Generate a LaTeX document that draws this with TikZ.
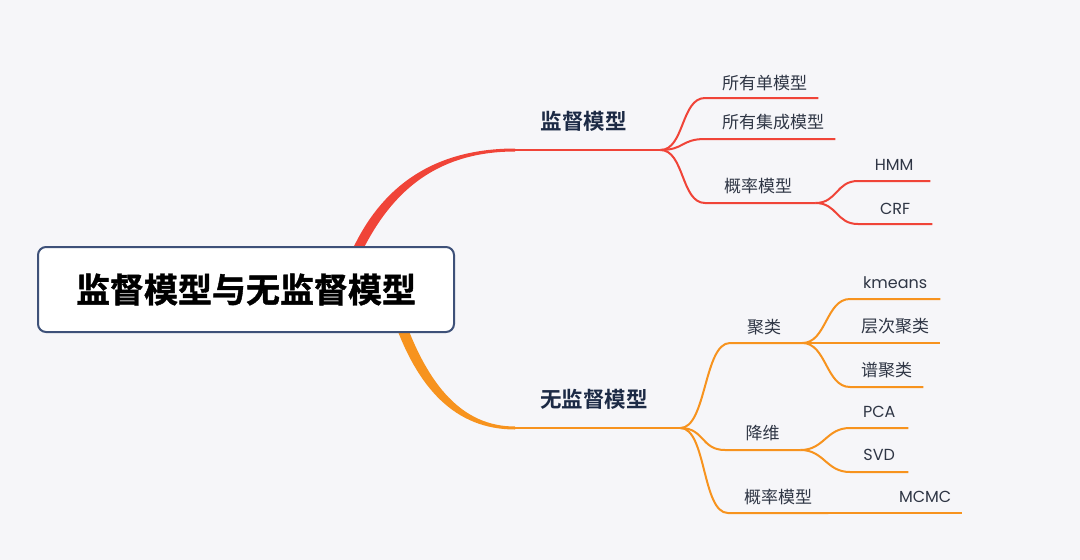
\documentclass[tikz,border=0pt]{standalone}
\usepackage{fontspec}
\setmainfont{Poppins}
\newfontfamily\cjk[BoldFont={Noto Sans CJK SC Bold}]{Noto Sans CJK SC}
\newfontfamily\cjkheavy[FakeBold=1.2]{Noto Sans CJK SC Bold}
\definecolor{bgcol}{HTML}{F6F6F9}
\definecolor{boxcol}{HTML}{3E5179}
\definecolor{supred}{HTML}{F04438}
\definecolor{unsorange}{HTML}{F7931E}
\definecolor{headtext}{HTML}{1C2A45}
\definecolor{subtext}{HTML}{2F3645}

\begin{document}
\begin{tikzpicture}[x=1pt,y=-1pt]
    % --- 样式定义 ---
    \tikzstyle{rootbox}=[draw=boxcol, line width=2pt, fill=white, rounded corners=8pt,
        minimum width=416pt, minimum height=85pt, inner sep=0pt,
        font=\cjkheavy\fontsize{34}{40}\selectfont, text=black]
    \tikzstyle{head}=[anchor=south west, inner sep=0pt, minimum height=56pt,
        font=\cjk\bfseries\fontsize{21.5}{26}\selectfont, text=headtext]
    \tikzstyle{leafcn}=[anchor=south west, inner sep=0pt,
        font=\cjk\fontsize{17}{20}\selectfont, text=subtext]
    \tikzstyle{leafen}=[anchor=south west, inner sep=0pt,
        font=\fontsize{16}{20}\selectfont, text=subtext]
    \tikzstyle{redline}=[draw=supred, line width=2pt]
    \tikzstyle{orangeline}=[draw=unsorange, line width=2pt]

    % 背景
    \fill[bgcol] (0,0) rectangle (1080,560);
    \useasboundingbox (0,0) rectangle (1080,560);

    % ====== 第一层: 两个分支标题 ======
    \node[head, minimum width=145pt] (sup) at (515,150) {监督模型\kern8pt};
    \node[head, minimum width=165pt] (uns) at (515,428) {无监督模型\kern7pt};

    % ====== 监督模型的子节点 ======
    \node[leafcn, minimum width=113pt, minimum height=30pt] (allsingle) at (705,98) {\kern6pt 所有单模型};
    \node[leafcn, minimum width=130pt, minimum height=34pt] (allensemble) at (705,139) {\kern6pt 所有集成模型};
    \node[leafcn, minimum width=110pt, minimum height=34pt] (supprob) at (705,203) {概率模型\kern4pt};
    \node[leafen, minimum width=72pt, minimum height=32pt] (hmm) at (858,181) {HMM};
    \node[leafen, minimum width=74pt, minimum height=30pt] (crf) at (858,224) {CRF};

    % ====== 无监督模型的子节点 ======
    \node[leafcn, minimum width=72pt, minimum height=32pt] (cluster) at (730,343) {聚类\kern4pt};
    \node[leafen, minimum width=90pt, minimum height=32pt] (kmeans) at (850,299) {kmeans};
    \node[leafcn, minimum width=90pt, minimum height=34pt] (hiercluster) at (850,343) {层次聚类};
    \node[leafcn, minimum width=73pt, minimum height=34pt] (spectral) at (850,387) {谱聚类};
    \node[leafcn, minimum width=75pt, minimum height=34pt] (dimred) at (725,450) {降维};
    \node[leafen, minimum width=58pt, minimum height=32pt] (pca) at (850,428) {PCA};
    \node[leafen, minimum width=58pt, minimum height=34pt] (svd) at (850,472) {SVD};
    \node[leafcn, minimum width=100pt, minimum height=32pt] (unsprob) at (728,513) {概率模型};
    \node[leafen, minimum width=74pt, minimum height=32pt] (mcmc) at (888,513) {MCMC};

    % ====== 主干: 渐细的粗曲线 ======
    \fill[supred] (347,262) .. controls (372,200) and (420,148.6) .. ([yshift=1.5pt]sup.south west)
        -- ([yshift=-1.5pt]sup.south west) .. controls (425,151.5) and (383,205) .. (357,262) -- cycle;
    \fill[unsorange] (393,318) .. controls (417,388) and (455,429.5) .. ([yshift=-1.5pt]uns.south west)
        -- ([yshift=1.5pt]uns.south west) .. controls (462,426.5) and (428,385) .. (404,318) -- cycle;
    \draw[redline, line width=2.8pt] (sup.south west) -- (sup.south east);
    \draw[orangeline, line width=2.8pt] (uns.south west) -- (uns.south east);

    % 根节点 (盖住主干的起点)
    \node[rootbox] (root) at (246,289.5) {监督模型与无监督模型};

    % ====== 监督模型的连线 ======
    \draw[redline] (sup.south east) .. controls +(24,0) and +(-24,0) .. (allsingle.south west) -- (allsingle.south east);
    \draw[redline] (sup.south east) .. controls +(24,0) and +(-24,0) .. (allensemble.south west) -- (allensemble.south east);
    \draw[redline] (sup.south east) .. controls +(24,0) and +(-24,0) .. (supprob.south west) -- (supprob.south east);
    \draw[redline] (supprob.south east) .. controls +(22,0) and +(-22,0) .. (hmm.south west) -- (hmm.south east);
    \draw[redline] (supprob.south east) .. controls +(22,0) and +(-22,0) .. (crf.south west) -- (crf.south east);

    % ====== 无监督模型的连线 ======
    \draw[orangeline] (uns.south east) .. controls +(26,0) and +(-26,0) .. (cluster.south west) -- (cluster.south east);
    \draw[orangeline] (uns.south east) .. controls +(24,0) and +(-24,0) .. (dimred.south west) -- (dimred.south east);
    \draw[orangeline] (uns.south east) .. controls +(26,0) and +(-26,0) .. (unsprob.south west) -- (unsprob.south east);
    \draw[orangeline] (cluster.south east) .. controls +(24,0) and +(-24,0) .. (kmeans.south west) -- (kmeans.south east);
    \draw[orangeline] (cluster.south east) -- (hiercluster.south west) -- (hiercluster.south east);
    \draw[orangeline] (cluster.south east) .. controls +(24,0) and +(-24,0) .. (spectral.south west) -- (spectral.south east);
    \draw[orangeline] (dimred.south east) .. controls +(24,0) and +(-24,0) .. (pca.south west) -- (pca.south east);
    \draw[orangeline] (dimred.south east) .. controls +(24,0) and +(-24,0) .. (svd.south west) -- (svd.south east);
    \draw[orangeline] (unsprob.south east) -- (mcmc.south west) -- (mcmc.south east);
\end{tikzpicture}
\end{document}
